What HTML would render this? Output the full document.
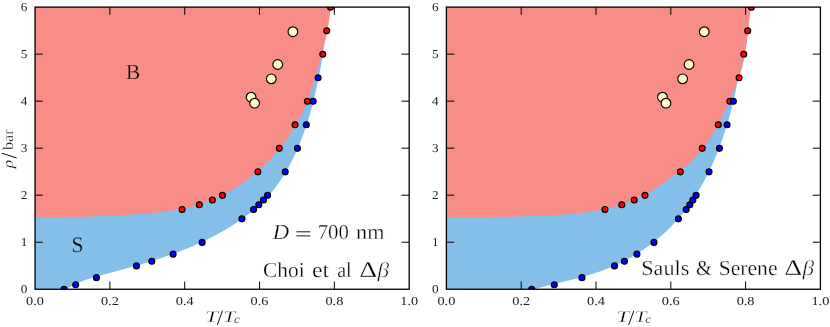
<!DOCTYPE html><html><head><meta charset="utf-8"><style>html,body{margin:0;padding:0;background:#fff}</style></head><body><svg width="830" height="327" viewBox="0 0 830 327" style="will-change:transform;display:block;font-family:'Liberation Serif',serif;text-rendering:geometricPrecision">
<rect width="830" height="327" fill="#fff"/>
<defs><clipPath id="cl"><rect x="35.05" y="7.1" width="374.15" height="282.15"/></clipPath><clipPath id="cr"><rect x="446.4" y="7.1" width="374.0" height="282.15"/></clipPath></defs>
<g clip-path="url(#cl)">
<path d="M35.05,289.25 L64.83,290.42 L65.91,289.68 L66.99,288.96 L68.08,288.26 L69.19,287.58 L70.29,286.92 L71.41,286.29 L72.54,285.67 L73.67,285.07 L74.81,284.50 L75.95,283.94 L77.10,283.39 L78.26,282.87 L79.43,282.36 L80.60,281.86 L81.77,281.38 L82.95,280.92 L84.14,280.47 L85.33,280.03 L86.53,279.60 L87.73,279.18 L88.93,278.78 L90.14,278.38 L91.36,277.99 L92.57,277.62 L93.79,277.25 L95.01,276.89 L96.24,276.53 L97.47,276.18 L98.70,275.84 L99.93,275.50 L101.17,275.17 L102.41,274.84 L103.65,274.51 L104.89,274.19 L106.13,273.86 L107.37,273.54 L108.61,273.22 L109.86,272.89 L111.10,272.57 L112.34,272.25 L113.59,271.92 L114.83,271.59 L116.08,271.26 L117.32,270.93 L118.57,270.60 L119.81,270.27 L121.06,269.94 L122.30,269.60 L123.54,269.26 L124.79,268.93 L126.03,268.59 L127.28,268.24 L128.52,267.90 L129.76,267.55 L131.01,267.21 L132.25,266.86 L133.49,266.51 L134.73,266.15 L135.97,265.80 L137.21,265.44 L138.46,265.08 L139.69,264.72 L140.93,264.36 L142.17,263.99 L143.41,263.62 L144.65,263.25 L145.88,262.88 L147.12,262.50 L148.36,262.12 L149.59,261.74 L150.82,261.36 L152.05,260.97 L153.29,260.58 L154.52,260.19 L155.75,259.80 L156.97,259.40 L158.20,259.00 L159.43,258.60 L160.65,258.19 L161.88,257.78 L163.10,257.37 L164.32,256.96 L165.54,256.54 L166.76,256.12 L167.98,255.69 L169.19,255.26 L170.41,254.83 L171.62,254.40 L172.83,253.96 L174.04,253.51 L175.25,253.07 L176.46,252.62 L177.66,252.17 L178.87,251.71 L180.07,251.25 L181.27,250.78 L182.47,250.32 L183.66,249.84 L184.86,249.37 L186.05,248.89 L187.24,248.40 L188.43,247.91 L189.62,247.42 L190.80,246.92 L191.99,246.42 L193.17,245.92 L194.35,245.41 L195.52,244.89 L196.70,244.37 L197.87,243.85 L199.04,243.32 L200.21,242.79 L201.37,242.25 L202.53,241.71 L203.69,241.17 L204.85,240.61 L206.01,240.06 L207.16,239.50 L208.31,238.93 L209.46,238.36 L210.60,237.78 L211.75,237.20 L212.89,236.62 L214.02,236.02 L215.16,235.43 L216.29,234.83 L217.42,234.22 L218.55,233.61 L219.67,232.99 L220.79,232.36 L221.91,231.74 L223.02,231.10 L224.13,230.46 L225.24,229.81 L226.35,229.16 L227.45,228.51 L228.55,227.84 L229.64,227.17 L230.73,226.50 L231.82,225.82 L232.91,225.13 L233.99,224.44 L235.07,223.74 L236.15,223.03 L237.22,222.32 L238.28,221.60 L239.34,220.88 L240.40,220.15 L241.45,219.41 L242.50,218.66 L243.55,217.91 L244.58,217.15 L245.62,216.39 L246.65,215.62 L247.67,214.84 L248.68,214.05 L249.69,213.26 L250.70,212.46 L251.70,211.65 L252.69,210.84 L253.67,210.02 L254.65,209.19 L255.63,208.35 L256.59,207.50 L257.55,206.65 L258.50,205.79 L259.44,204.92 L260.38,204.05 L261.31,203.16 L262.23,202.27 L263.14,201.37 L264.04,200.46 L264.94,199.54 L265.83,198.62 L266.71,197.68 L267.58,196.74 L268.44,195.79 L269.29,194.83 L270.13,193.86 L270.97,192.89 L271.79,191.90 L272.61,190.91 L273.42,189.91 L274.21,188.90 L275.00,187.89 L275.78,186.86 L276.55,185.83 L277.32,184.80 L278.07,183.75 L278.82,182.70 L279.56,181.64 L280.28,180.58 L281.00,179.51 L281.72,178.43 L282.42,177.35 L283.12,176.26 L283.80,175.17 L284.48,174.07 L285.15,172.97 L285.82,171.86 L286.47,170.74 L287.12,169.63 L287.76,168.50 L288.39,167.38 L289.02,166.25 L289.63,165.11 L290.24,163.98 L290.84,162.83 L291.44,161.69 L292.03,160.54 L292.61,159.39 L293.18,158.23 L293.74,157.08 L294.30,155.92 L294.85,154.75 L295.39,153.59 L295.93,152.42 L296.46,151.25 L296.98,150.08 L297.50,148.90 L298.01,147.72 L298.52,146.54 L299.01,145.36 L299.50,144.17 L299.99,142.98 L300.47,141.79 L300.94,140.60 L301.40,139.40 L301.86,138.21 L302.32,137.01 L302.77,135.80 L303.21,134.60 L303.65,133.39 L304.08,132.19 L304.51,130.97 L304.93,129.76 L305.34,128.55 L305.75,127.33 L306.16,126.11 L306.56,124.89 L306.95,123.67 L307.34,122.45 L307.73,121.22 L308.11,120.00 L308.48,118.77 L308.85,117.54 L309.22,116.31 L309.58,115.07 L309.94,113.84 L310.29,112.60 L310.64,111.36 L310.98,110.13 L311.32,108.88 L311.66,107.64 L311.99,106.40 L312.32,105.16 L312.65,103.91 L312.97,102.66 L313.28,101.42 L313.60,100.17 L313.91,98.92 L314.21,97.67 L314.52,96.42 L314.82,95.16 L315.12,93.91 L315.41,92.66 L315.70,91.40 L315.99,90.15 L316.27,88.89 L316.55,87.63 L316.83,86.37 L317.10,85.12 L317.37,83.86 L317.64,82.60 L317.90,81.34 L318.17,80.08 L318.42,78.82 L318.68,77.55 L318.93,76.29 L319.18,75.03 L319.43,73.77 L319.68,72.51 L319.92,71.24 L320.16,69.98 L320.39,68.72 L320.63,67.46 L320.86,66.19 L321.09,64.93 L321.31,63.67 L321.54,62.40 L321.76,61.14 L321.98,59.88 L322.19,58.62 L322.41,57.35 L322.62,56.09 L322.83,54.83 L323.03,53.57 L323.24,52.31 L323.44,51.05 L330.73,5.07 L330.61,6.43 L330.49,7.79 L330.35,9.15 L330.21,10.51 L330.06,11.88 L329.90,13.24 L329.73,14.61 L329.55,15.98 L329.37,17.35 L329.17,18.73 L328.97,20.10 L328.76,21.47 L328.55,22.85 L328.32,24.22 L328.09,25.60 L327.85,26.98 L327.61,28.35 L327.36,29.73 L327.10,31.11 L326.84,32.49 L326.56,33.87 L326.29,35.25 L326.00,36.63 L325.71,38.01 L325.42,39.38 L325.12,40.76 L324.81,42.14 L324.50,43.52 L324.18,44.90 L323.86,46.28 L323.54,47.66 L323.21,49.03 L322.87,50.41 L35.05,7.10Z" fill="#83bfe9"/>
<path d="M35.05,7.10 L35.05,217.44 L35.15,217.44 L36.52,217.43 L37.88,217.42 L39.25,217.41 L40.62,217.40 L41.99,217.39 L43.36,217.37 L44.74,217.36 L46.11,217.35 L47.49,217.33 L48.87,217.32 L50.25,217.31 L51.63,217.29 L53.02,217.27 L54.41,217.26 L55.79,217.24 L57.18,217.22 L58.57,217.20 L59.96,217.18 L61.36,217.16 L62.75,217.14 L64.15,217.12 L65.54,217.10 L66.94,217.07 L68.34,217.05 L69.74,217.02 L71.14,217.00 L72.55,216.97 L73.95,216.94 L75.35,216.91 L76.76,216.88 L78.16,216.85 L79.57,216.82 L80.98,216.78 L82.39,216.75 L83.80,216.71 L85.21,216.67 L86.62,216.63 L88.03,216.59 L89.44,216.55 L90.85,216.51 L92.26,216.47 L93.67,216.42 L95.09,216.37 L96.50,216.33 L97.91,216.28 L99.33,216.23 L100.74,216.17 L102.16,216.12 L103.57,216.06 L104.99,216.01 L106.40,215.95 L107.82,215.89 L109.23,215.83 L110.64,215.76 L112.06,215.70 L113.47,215.63 L114.89,215.56 L116.30,215.49 L117.72,215.42 L119.13,215.35 L120.54,215.27 L121.95,215.19 L123.37,215.12 L124.78,215.03 L126.19,214.95 L127.60,214.87 L129.01,214.78 L130.42,214.69 L131.83,214.60 L133.24,214.51 L134.64,214.41 L136.05,214.31 L137.46,214.22 L138.86,214.11 L140.27,214.01 L141.67,213.90 L143.07,213.80 L144.47,213.69 L145.87,213.57 L147.27,213.46 L148.67,213.34 L150.07,213.22 L151.46,213.10 L152.86,212.97 L154.25,212.84 L155.64,212.70 L157.03,212.56 L158.42,212.42 L159.81,212.27 L161.19,212.11 L162.58,211.95 L163.96,211.78 L165.34,211.61 L166.72,211.43 L168.10,211.25 L169.48,211.05 L170.85,210.85 L172.22,210.65 L173.59,210.43 L174.96,210.21 L176.33,209.98 L177.69,209.74 L179.06,209.49 L180.42,209.23 L181.78,208.96 L183.13,208.69 L184.49,208.40 L185.84,208.10 L187.19,207.79 L188.54,207.48 L189.88,207.15 L191.22,206.81 L192.57,206.45 L193.90,206.09 L195.24,205.71 L196.57,205.32 L197.90,204.92 L199.23,204.50 L200.56,204.08 L201.88,203.64 L203.20,203.18 L204.51,202.71 L205.83,202.23 L207.14,201.74 L208.44,201.24 L209.75,200.72 L211.05,200.19 L212.34,199.65 L213.63,199.10 L214.92,198.53 L216.20,197.95 L217.48,197.37 L218.76,196.77 L220.03,196.15 L221.29,195.53 L222.55,194.90 L223.81,194.26 L225.06,193.60 L226.30,192.94 L227.54,192.26 L228.77,191.57 L230.00,190.88 L231.22,190.17 L232.44,189.45 L233.65,188.73 L234.85,187.99 L236.05,187.24 L237.24,186.49 L238.42,185.72 L239.60,184.95 L240.77,184.17 L241.93,183.38 L243.09,182.58 L244.24,181.77 L245.38,180.95 L246.52,180.12 L247.65,179.28 L248.77,178.44 L249.88,177.59 L250.99,176.73 L252.09,175.86 L253.18,174.98 L254.27,174.09 L255.34,173.19 L256.41,172.29 L257.48,171.38 L258.53,170.46 L259.58,169.53 L260.63,168.59 L261.66,167.65 L262.69,166.70 L263.71,165.74 L264.72,164.77 L265.72,163.79 L266.72,162.81 L267.71,161.82 L268.69,160.82 L269.67,159.81 L270.64,158.80 L271.60,157.78 L272.55,156.75 L273.49,155.71 L274.43,154.67 L275.36,153.62 L276.28,152.56 L277.19,151.49 L278.10,150.42 L279.00,149.34 L279.89,148.26 L280.77,147.16 L281.64,146.06 L282.50,144.96 L283.36,143.85 L284.20,142.73 L285.04,141.60 L285.87,140.47 L286.69,139.34 L287.51,138.19 L288.31,137.04 L289.10,135.89 L289.89,134.73 L290.66,133.56 L291.43,132.39 L292.19,131.21 L292.94,130.03 L293.68,128.84 L294.41,127.64 L295.13,126.44 L295.84,125.24 L296.54,124.03 L297.23,122.81 L297.92,121.59 L298.59,120.37 L299.25,119.14 L299.90,117.90 L300.55,116.66 L301.18,115.42 L301.80,114.17 L302.41,112.91 L303.01,111.66 L303.61,110.39 L304.19,109.13 L304.76,107.86 L305.32,106.58 L305.87,105.31 L306.41,104.02 L306.94,102.74 L307.45,101.45 L307.96,100.15 L308.46,98.86 L308.94,97.56 L309.42,96.25 L309.89,94.94 L310.35,93.63 L310.80,92.32 L311.24,91.00 L311.68,89.68 L312.11,88.36 L312.54,87.03 L312.96,85.70 L313.37,84.37 L313.78,83.04 L314.19,81.70 L314.60,80.36 L315.00,79.02 L315.40,77.67 L315.80,76.33 L316.19,74.98 L316.59,73.63 L316.98,72.27 L317.37,70.92 L317.76,69.56 L318.14,68.20 L318.53,66.84 L318.91,65.48 L319.29,64.12 L319.66,62.75 L320.03,61.38 L320.40,60.02 L320.76,58.65 L321.12,57.28 L321.48,55.90 L321.83,54.53 L322.18,53.16 L322.53,51.78 L322.87,50.41 L323.21,49.03 L323.54,47.66 L323.86,46.28 L324.18,44.90 L324.50,43.52 L324.81,42.14 L325.12,40.76 L325.42,39.38 L325.71,38.01 L326.00,36.63 L326.29,35.25 L326.56,33.87 L326.84,32.49 L327.10,31.11 L327.36,29.73 L327.61,28.35 L327.85,26.98 L328.09,25.60 L328.32,24.22 L328.55,22.85 L328.76,21.47 L328.97,20.10 L329.17,18.73 L329.37,17.35 L329.55,15.98 L329.73,14.61 L329.90,13.24 L330.06,11.88 L330.21,10.51 L330.35,9.15 L330.49,7.79 L330.61,6.43 L330.73,5.07Z" fill="#f88c86"/>
<circle cx="182.09" cy="209.46" r="2.95" fill="#f00" stroke="#000" stroke-width="1.2"/>
<circle cx="199.30" cy="204.76" r="2.95" fill="#f00" stroke="#000" stroke-width="1.2"/>
<circle cx="212.40" cy="200.05" r="2.95" fill="#f00" stroke="#000" stroke-width="1.2"/>
<circle cx="222.42" cy="195.35" r="2.95" fill="#f00" stroke="#000" stroke-width="1.2"/>
<circle cx="257.86" cy="171.84" r="2.95" fill="#f00" stroke="#000" stroke-width="1.2"/>
<circle cx="279.26" cy="148.33" r="2.95" fill="#f00" stroke="#000" stroke-width="1.2"/>
<circle cx="295.08" cy="124.81" r="2.95" fill="#f00" stroke="#000" stroke-width="1.2"/>
<circle cx="307.36" cy="101.30" r="2.95" fill="#f00" stroke="#000" stroke-width="1.2"/>
<circle cx="322.77" cy="54.27" r="2.95" fill="#f00" stroke="#000" stroke-width="1.2"/>
<circle cx="326.77" cy="30.76" r="2.95" fill="#f00" stroke="#000" stroke-width="1.2"/>
<circle cx="330.48" cy="7.25" r="2.95" fill="#f00" stroke="#000" stroke-width="1.2"/>
<circle cx="64.05" cy="289.40" r="2.95" fill="#00f" stroke="#000" stroke-width="1.2"/>
<circle cx="75.68" cy="284.70" r="2.95" fill="#00f" stroke="#000" stroke-width="1.2"/>
<circle cx="96.41" cy="277.64" r="2.95" fill="#00f" stroke="#000" stroke-width="1.2"/>
<circle cx="136.44" cy="265.89" r="2.95" fill="#00f" stroke="#000" stroke-width="1.2"/>
<circle cx="151.78" cy="261.19" r="2.95" fill="#00f" stroke="#000" stroke-width="1.2"/>
<circle cx="173.11" cy="254.13" r="2.95" fill="#00f" stroke="#000" stroke-width="1.2"/>
<circle cx="202.11" cy="242.38" r="2.95" fill="#00f" stroke="#000" stroke-width="1.2"/>
<circle cx="241.95" cy="218.86" r="2.95" fill="#00f" stroke="#000" stroke-width="1.2"/>
<circle cx="253.55" cy="209.46" r="2.95" fill="#00f" stroke="#000" stroke-width="1.2"/>
<circle cx="258.79" cy="204.76" r="2.95" fill="#00f" stroke="#000" stroke-width="1.2"/>
<circle cx="263.47" cy="200.05" r="2.95" fill="#00f" stroke="#000" stroke-width="1.2"/>
<circle cx="267.62" cy="195.35" r="2.95" fill="#00f" stroke="#000" stroke-width="1.2"/>
<circle cx="285.21" cy="171.84" r="2.95" fill="#00f" stroke="#000" stroke-width="1.2"/>
<circle cx="297.44" cy="148.33" r="2.95" fill="#00f" stroke="#000" stroke-width="1.2"/>
<circle cx="306.31" cy="124.81" r="2.95" fill="#00f" stroke="#000" stroke-width="1.2"/>
<circle cx="313.16" cy="101.30" r="2.95" fill="#00f" stroke="#000" stroke-width="1.2"/>
<circle cx="318.09" cy="77.79" r="2.95" fill="#00f" stroke="#000" stroke-width="1.2"/>
<circle cx="251.10" cy="97.20" r="4.85" fill="#fffacd" stroke="#000" stroke-width="1.15"/>
<circle cx="254.60" cy="103.20" r="4.85" fill="#fffacd" stroke="#000" stroke-width="1.15"/>
<circle cx="271.30" cy="78.80" r="4.85" fill="#fffacd" stroke="#000" stroke-width="1.15"/>
<circle cx="277.70" cy="64.50" r="4.85" fill="#fffacd" stroke="#000" stroke-width="1.15"/>
<circle cx="292.90" cy="31.70" r="4.85" fill="#fffacd" stroke="#000" stroke-width="1.15"/>
</g>
<path d="M109.88,289.25v-7.7M109.88,7.1v7.7M184.71,289.25v-7.7M184.71,7.1v7.7M259.54,289.25v-7.7M259.54,7.1v7.7M334.37,289.25v-7.7M334.37,7.1v7.7M35.05,242.22h7.7M409.2,242.22h-7.7M35.05,195.20h7.7M409.2,195.20h-7.7M35.05,148.18h7.7M409.2,148.18h-7.7M35.05,101.15h7.7M409.2,101.15h-7.7M35.05,54.12h7.7M409.2,54.12h-7.7" stroke="#000" stroke-width="1.0" fill="none"/>
<rect x="35.05" y="7.1" width="374.15" height="282.15" fill="none" stroke="#000" stroke-width="1.3"/>
<text x="26.10" y="305.1" font-size="12.1" fill="#222" textLength="17.9" lengthAdjust="spacingAndGlyphs">0.0</text>
<text x="100.93" y="305.1" font-size="12.1" fill="#222" textLength="17.9" lengthAdjust="spacingAndGlyphs">0.2</text>
<text x="175.76" y="305.1" font-size="12.1" fill="#222" textLength="17.9" lengthAdjust="spacingAndGlyphs">0.4</text>
<text x="250.59" y="305.1" font-size="12.1" fill="#222" textLength="17.9" lengthAdjust="spacingAndGlyphs">0.6</text>
<text x="325.42" y="305.1" font-size="12.1" fill="#222" textLength="17.9" lengthAdjust="spacingAndGlyphs">0.8</text>
<text x="400.25" y="305.1" font-size="12.1" fill="#222" textLength="17.9" lengthAdjust="spacingAndGlyphs">1.0</text>
<text x="20.75" y="292.85" font-size="12.1" fill="#222" textLength="6.6" lengthAdjust="spacingAndGlyphs">0</text>
<text x="20.75" y="245.82" font-size="12.1" fill="#222" textLength="6.6" lengthAdjust="spacingAndGlyphs">1</text>
<text x="20.75" y="198.80" font-size="12.1" fill="#222" textLength="6.6" lengthAdjust="spacingAndGlyphs">2</text>
<text x="20.75" y="151.78" font-size="12.1" fill="#222" textLength="6.6" lengthAdjust="spacingAndGlyphs">3</text>
<text x="20.75" y="104.75" font-size="12.1" fill="#222" textLength="6.6" lengthAdjust="spacingAndGlyphs">4</text>
<text x="20.75" y="57.73" font-size="12.1" fill="#222" textLength="6.6" lengthAdjust="spacingAndGlyphs">5</text>
<text x="20.75" y="10.70" font-size="12.1" fill="#222" textLength="6.6" lengthAdjust="spacingAndGlyphs">6</text>
<g clip-path="url(#cr)">
<path d="M446.40,289.25 L531.19,290.25 L532.22,289.92 L533.25,289.58 L534.28,289.26 L535.31,288.95 L536.34,288.64 L537.38,288.34 L538.41,288.04 L539.44,287.75 L540.48,287.46 L541.51,287.19 L542.55,286.91 L543.58,286.64 L544.62,286.37 L545.66,286.11 L546.69,285.85 L547.73,285.59 L548.77,285.34 L549.81,285.09 L550.85,284.83 L551.88,284.58 L552.92,284.33 L553.96,284.09 L555.00,283.84 L556.04,283.59 L557.08,283.34 L558.12,283.09 L559.16,282.84 L560.19,282.59 L561.23,282.34 L562.27,282.08 L563.31,281.83 L564.35,281.58 L565.39,281.32 L566.42,281.07 L567.46,280.81 L568.50,280.55 L569.53,280.29 L570.57,280.03 L571.60,279.76 L572.64,279.50 L573.67,279.23 L574.70,278.96 L575.74,278.69 L576.77,278.42 L577.80,278.14 L578.83,277.86 L579.86,277.58 L580.89,277.30 L581.91,277.01 L582.94,276.73 L583.97,276.43 L584.99,276.14 L586.01,275.84 L587.04,275.54 L588.06,275.24 L589.08,274.93 L590.09,274.62 L591.11,274.30 L592.13,273.99 L593.14,273.66 L594.16,273.34 L595.17,273.01 L596.18,272.67 L597.19,272.33 L598.19,271.99 L599.20,271.64 L600.20,271.29 L601.21,270.94 L602.21,270.58 L603.21,270.21 L604.20,269.84 L605.20,269.46 L606.19,269.08 L607.18,268.70 L608.17,268.30 L609.16,267.91 L610.15,267.50 L611.13,267.10 L612.11,266.68 L613.09,266.26 L614.07,265.84 L615.05,265.41 L616.02,264.97 L616.99,264.52 L617.96,264.08 L618.92,263.62 L619.89,263.16 L620.85,262.69 L621.81,262.22 L622.76,261.74 L623.72,261.25 L624.67,260.76 L625.62,260.27 L626.56,259.76 L627.51,259.25 L628.45,258.74 L629.38,258.22 L630.32,257.70 L631.25,257.17 L632.18,256.63 L633.11,256.09 L634.03,255.54 L634.95,254.99 L635.87,254.43 L636.78,253.87 L637.69,253.30 L638.60,252.72 L639.50,252.14 L640.40,251.56 L641.30,250.97 L642.20,250.37 L643.09,249.77 L643.98,249.17 L644.86,248.56 L645.74,247.94 L646.62,247.32 L647.49,246.70 L648.36,246.06 L649.23,245.43 L650.09,244.79 L650.95,244.14 L651.81,243.49 L652.66,242.84 L653.51,242.18 L654.35,241.51 L655.19,240.84 L656.03,240.17 L656.86,239.49 L657.69,238.80 L658.51,238.11 L659.33,237.42 L660.15,236.72 L660.96,236.02 L661.77,235.31 L662.57,234.60 L663.37,233.89 L664.16,233.16 L664.95,232.44 L665.74,231.71 L666.52,230.98 L667.30,230.24 L668.07,229.50 L668.84,228.75 L669.60,228.00 L670.36,227.25 L671.12,226.49 L671.86,225.72 L672.61,224.96 L673.35,224.18 L674.08,223.41 L674.81,222.63 L675.54,221.85 L676.26,221.06 L676.97,220.27 L677.69,219.47 L678.39,218.67 L679.09,217.87 L679.79,217.06 L680.48,216.25 L681.16,215.44 L681.84,214.62 L682.51,213.80 L683.18,212.98 L683.84,212.15 L684.50,211.31 L685.16,210.48 L685.80,209.64 L686.44,208.80 L687.08,207.95 L687.71,207.10 L688.34,206.25 L688.96,205.39 L689.57,204.53 L690.18,203.67 L690.79,202.80 L691.39,201.93 L691.98,201.06 L692.57,200.18 L693.16,199.30 L693.74,198.42 L694.31,197.53 L694.89,196.64 L695.45,195.75 L696.02,194.86 L696.58,193.96 L697.13,193.06 L697.68,192.15 L698.23,191.25 L698.78,190.34 L699.32,189.43 L699.85,188.51 L700.38,187.59 L700.91,186.67 L701.44,185.75 L701.96,184.82 L702.48,183.90 L702.99,182.97 L703.51,182.03 L704.01,181.10 L704.52,180.16 L705.02,179.22 L705.51,178.27 L706.01,177.33 L706.50,176.38 L706.98,175.43 L707.47,174.48 L707.95,173.52 L708.42,172.56 L708.89,171.60 L709.36,170.64 L709.83,169.68 L710.29,168.71 L710.75,167.75 L711.20,166.78 L711.65,165.80 L712.10,164.83 L712.54,163.85 L712.98,162.88 L713.42,161.90 L713.85,160.91 L714.28,159.93 L714.70,158.95 L715.12,157.96 L715.54,156.97 L715.96,155.98 L716.37,154.99 L716.78,153.99 L717.18,153.00 L717.58,152.00 L717.98,151.00 L718.37,150.00 L718.76,149.00 L719.15,148.00 L719.53,146.99 L719.91,145.99 L720.29,144.98 L720.66,143.97 L721.03,142.96 L721.39,141.95 L721.75,140.94 L722.11,139.93 L722.47,138.91 L722.82,137.90 L723.17,136.88 L723.51,135.86 L723.85,134.85 L724.19,133.83 L724.53,132.80 L724.86,131.78 L725.19,130.76 L725.52,129.74 L725.84,128.71 L726.16,127.69 L726.48,126.66 L726.79,125.64 L727.10,124.61 L727.41,123.58 L727.72,122.55 L728.02,121.52 L728.32,120.49 L728.62,119.46 L728.91,118.43 L729.20,117.40 L729.49,116.37 L729.78,115.34 L730.06,114.30 L730.34,113.27 L730.62,112.24 L730.90,111.20 L731.17,110.17 L731.44,109.13 L731.71,108.10 L731.98,107.07 L732.24,106.03 L732.50,105.00 L732.75,103.96 L733.01,102.93 L733.26,101.89 L733.50,100.86 L733.75,99.82 L733.99,98.79 L734.23,97.75 L734.46,96.72 L734.69,95.68 L734.92,94.65 L735.14,93.61 L735.36,92.58 L735.58,91.55 L735.79,90.51 L736.00,89.48 L736.20,88.45 L736.40,87.42 L736.60,86.38 L736.79,85.35 L736.98,84.32 L737.16,83.29 L737.34,82.26 L737.52,81.23 L737.69,80.21 L750.61,4.97 L750.46,6.42 L750.31,7.87 L750.16,9.31 L750.02,10.76 L749.88,12.21 L749.74,13.65 L749.60,15.09 L749.46,16.53 L749.32,17.98 L749.18,19.41 L749.05,20.85 L748.91,22.29 L748.77,23.73 L748.63,25.16 L748.49,26.59 L748.34,28.02 L748.19,29.45 L748.04,30.88 L747.89,32.31 L747.73,33.74 L747.57,35.16 L747.41,36.58 L747.24,38.01 L747.07,39.43 L746.89,40.84 L746.70,42.26 L746.51,43.67 L746.31,45.09 L746.11,46.50 L745.90,47.91 L745.68,49.32 L745.45,50.72 L745.22,52.13 L744.97,53.53 L744.72,54.93 L744.46,56.33 L744.18,57.72 L743.90,59.12 L743.60,60.51 L743.29,61.90 L742.97,63.29 L742.63,64.68 L742.28,66.06 L741.90,67.45 L741.52,68.83 L741.11,70.20 L740.69,71.58 L740.25,72.95 L739.80,74.33 L739.33,75.70 L738.86,77.06 L738.37,78.43 L737.87,79.79 L446.40,7.10Z" fill="#83bfe9"/>
<path d="M446.40,7.10 L446.40,217.39 L446.48,217.39 L447.89,217.38 L449.30,217.37 L450.71,217.36 L452.13,217.35 L453.54,217.34 L454.96,217.33 L456.38,217.33 L457.79,217.32 L459.21,217.31 L460.64,217.30 L462.06,217.29 L463.48,217.28 L464.91,217.27 L466.34,217.26 L467.76,217.25 L469.19,217.24 L470.62,217.23 L472.05,217.22 L473.48,217.21 L474.92,217.20 L476.35,217.19 L477.79,217.18 L479.22,217.16 L480.66,217.15 L482.10,217.14 L483.53,217.12 L484.97,217.11 L486.41,217.09 L487.85,217.07 L489.30,217.06 L490.74,217.04 L492.18,217.02 L493.62,217.00 L495.07,216.98 L496.51,216.96 L497.96,216.93 L499.40,216.91 L500.85,216.88 L502.29,216.86 L503.74,216.83 L505.19,216.80 L506.63,216.77 L508.08,216.74 L509.53,216.71 L510.98,216.68 L512.43,216.65 L513.87,216.61 L515.32,216.58 L516.77,216.54 L518.22,216.50 L519.67,216.46 L521.12,216.42 L522.56,216.37 L524.01,216.33 L525.46,216.28 L526.91,216.23 L528.36,216.18 L529.81,216.13 L531.25,216.08 L532.70,216.03 L534.15,215.97 L535.60,215.91 L537.04,215.85 L538.49,215.79 L539.93,215.73 L541.38,215.66 L542.82,215.60 L544.27,215.53 L545.71,215.46 L547.16,215.38 L548.60,215.31 L550.04,215.23 L551.48,215.15 L552.92,215.07 L554.36,214.99 L555.80,214.90 L557.24,214.81 L558.68,214.72 L560.11,214.63 L561.55,214.53 L562.98,214.44 L564.42,214.34 L565.85,214.23 L567.28,214.13 L568.71,214.01 L570.14,213.90 L571.57,213.78 L573.00,213.66 L574.43,213.53 L575.85,213.39 L577.28,213.26 L578.70,213.11 L580.12,212.96 L581.54,212.80 L582.96,212.64 L584.38,212.47 L585.79,212.30 L587.21,212.11 L588.62,211.92 L590.03,211.72 L591.44,211.51 L592.85,211.30 L594.26,211.08 L595.66,210.84 L597.07,210.60 L598.47,210.35 L599.87,210.09 L601.27,209.82 L602.66,209.54 L604.06,209.25 L605.45,208.95 L606.84,208.64 L608.23,208.31 L609.62,207.98 L611.01,207.63 L612.39,207.27 L613.77,206.90 L615.15,206.52 L616.53,206.12 L617.90,205.71 L619.27,205.29 L620.64,204.85 L622.01,204.40 L623.38,203.94 L624.74,203.46 L626.10,202.97 L627.46,202.46 L628.81,201.94 L630.16,201.41 L631.51,200.86 L632.85,200.30 L634.18,199.73 L635.51,199.14 L636.84,198.55 L638.15,197.94 L639.47,197.31 L640.77,196.68 L642.07,196.03 L643.36,195.36 L644.64,194.69 L645.92,194.01 L647.19,193.31 L648.44,192.60 L649.69,191.88 L650.93,191.14 L652.16,190.40 L653.38,189.64 L654.60,188.87 L655.79,188.10 L656.98,187.31 L658.17,186.51 L659.34,185.70 L660.51,184.89 L661.68,184.07 L662.85,183.26 L664.02,182.44 L665.19,181.62 L666.37,180.81 L667.55,180.00 L668.73,179.18 L669.91,178.37 L671.09,177.55 L672.27,176.73 L673.45,175.91 L674.62,175.08 L675.79,174.24 L676.95,173.40 L678.10,172.55 L679.25,171.69 L680.38,170.83 L681.51,169.95 L682.63,169.06 L683.73,168.17 L684.83,167.26 L685.92,166.34 L687.00,165.41 L688.07,164.46 L689.14,163.51 L690.19,162.54 L691.24,161.55 L692.28,160.56 L693.31,159.55 L694.34,158.52 L695.35,157.49 L696.36,156.44 L697.35,155.38 L698.33,154.31 L699.30,153.22 L700.25,152.12 L701.19,151.02 L702.11,149.90 L703.01,148.77 L703.89,147.63 L704.75,146.48 L705.59,145.33 L706.42,144.16 L707.23,142.98 L708.03,141.80 L708.81,140.61 L709.58,139.41 L710.34,138.20 L711.10,136.99 L711.84,135.77 L712.58,134.54 L713.32,133.31 L714.04,132.07 L714.76,130.83 L715.48,129.58 L716.18,128.33 L716.88,127.07 L717.57,125.81 L718.24,124.55 L718.91,123.28 L719.57,122.01 L720.22,120.73 L720.87,119.46 L721.50,118.18 L722.13,116.89 L722.75,115.61 L723.36,114.32 L723.96,113.02 L724.56,111.73 L725.16,110.43 L725.74,109.13 L726.33,107.82 L726.91,106.51 L727.48,105.20 L728.05,103.89 L728.62,102.57 L729.18,101.25 L729.74,99.93 L730.30,98.61 L730.85,97.28 L731.41,95.95 L731.96,94.62 L732.51,93.28 L733.06,91.94 L733.61,90.60 L734.16,89.26 L734.71,87.92 L735.25,86.57 L735.79,85.22 L736.32,83.86 L736.84,82.51 L737.36,81.15 L737.87,79.79 L738.37,78.43 L738.86,77.06 L739.33,75.70 L739.80,74.33 L740.25,72.95 L740.69,71.58 L741.11,70.20 L741.52,68.83 L741.90,67.45 L742.28,66.06 L742.63,64.68 L742.97,63.29 L743.29,61.90 L743.60,60.51 L743.90,59.12 L744.18,57.72 L744.46,56.33 L744.72,54.93 L744.97,53.53 L745.22,52.13 L745.45,50.72 L745.68,49.32 L745.90,47.91 L746.11,46.50 L746.31,45.09 L746.51,43.67 L746.70,42.26 L746.89,40.84 L747.07,39.43 L747.24,38.01 L747.41,36.58 L747.57,35.16 L747.73,33.74 L747.89,32.31 L748.04,30.88 L748.19,29.45 L748.34,28.02 L748.49,26.59 L748.63,25.16 L748.77,23.73 L748.91,22.29 L749.05,20.85 L749.18,19.41 L749.32,17.98 L749.46,16.53 L749.60,15.09 L749.74,13.65 L749.88,12.21 L750.02,10.76 L750.16,9.31 L750.31,7.87 L750.46,6.42 L750.61,4.97Z" fill="#f88c86"/>
<circle cx="604.98" cy="209.46" r="2.95" fill="#f00" stroke="#000" stroke-width="1.2"/>
<circle cx="621.81" cy="204.76" r="2.95" fill="#f00" stroke="#000" stroke-width="1.2"/>
<circle cx="634.15" cy="200.05" r="2.95" fill="#f00" stroke="#000" stroke-width="1.2"/>
<circle cx="644.99" cy="195.35" r="2.95" fill="#f00" stroke="#000" stroke-width="1.2"/>
<circle cx="680.30" cy="171.84" r="2.95" fill="#f00" stroke="#000" stroke-width="1.2"/>
<circle cx="702.22" cy="148.33" r="2.95" fill="#f00" stroke="#000" stroke-width="1.2"/>
<circle cx="718.30" cy="124.81" r="2.95" fill="#f00" stroke="#000" stroke-width="1.2"/>
<circle cx="729.89" cy="101.30" r="2.95" fill="#f00" stroke="#000" stroke-width="1.2"/>
<circle cx="739.09" cy="77.79" r="2.95" fill="#f00" stroke="#000" stroke-width="1.2"/>
<circle cx="743.80" cy="54.27" r="2.95" fill="#f00" stroke="#000" stroke-width="1.2"/>
<circle cx="747.69" cy="30.76" r="2.95" fill="#f00" stroke="#000" stroke-width="1.2"/>
<circle cx="751.36" cy="7.25" r="2.95" fill="#f00" stroke="#000" stroke-width="1.2"/>
<circle cx="531.67" cy="289.40" r="2.95" fill="#00f" stroke="#000" stroke-width="1.2"/>
<circle cx="554.30" cy="284.70" r="2.95" fill="#00f" stroke="#000" stroke-width="1.2"/>
<circle cx="581.97" cy="277.64" r="2.95" fill="#00f" stroke="#000" stroke-width="1.2"/>
<circle cx="614.51" cy="265.89" r="2.95" fill="#00f" stroke="#000" stroke-width="1.2"/>
<circle cx="624.42" cy="261.19" r="2.95" fill="#00f" stroke="#000" stroke-width="1.2"/>
<circle cx="636.92" cy="254.13" r="2.95" fill="#00f" stroke="#000" stroke-width="1.2"/>
<circle cx="653.97" cy="242.38" r="2.95" fill="#00f" stroke="#000" stroke-width="1.2"/>
<circle cx="678.39" cy="218.86" r="2.95" fill="#00f" stroke="#000" stroke-width="1.2"/>
<circle cx="686.13" cy="209.46" r="2.95" fill="#00f" stroke="#000" stroke-width="1.2"/>
<circle cx="689.87" cy="204.76" r="2.95" fill="#00f" stroke="#000" stroke-width="1.2"/>
<circle cx="692.87" cy="200.05" r="2.95" fill="#00f" stroke="#000" stroke-width="1.2"/>
<circle cx="696.08" cy="195.35" r="2.95" fill="#00f" stroke="#000" stroke-width="1.2"/>
<circle cx="709.06" cy="171.84" r="2.95" fill="#00f" stroke="#000" stroke-width="1.2"/>
<circle cx="719.42" cy="148.33" r="2.95" fill="#00f" stroke="#000" stroke-width="1.2"/>
<circle cx="727.09" cy="124.81" r="2.95" fill="#00f" stroke="#000" stroke-width="1.2"/>
<circle cx="733.37" cy="101.30" r="2.95" fill="#00f" stroke="#000" stroke-width="1.2"/>
<circle cx="662.45" cy="97.20" r="4.85" fill="#fffacd" stroke="#000" stroke-width="1.15"/>
<circle cx="665.95" cy="103.20" r="4.85" fill="#fffacd" stroke="#000" stroke-width="1.15"/>
<circle cx="682.65" cy="78.80" r="4.85" fill="#fffacd" stroke="#000" stroke-width="1.15"/>
<circle cx="689.05" cy="64.50" r="4.85" fill="#fffacd" stroke="#000" stroke-width="1.15"/>
<circle cx="704.25" cy="31.70" r="4.85" fill="#fffacd" stroke="#000" stroke-width="1.15"/>
</g>
<path d="M521.20,289.25v-7.7M521.20,7.1v7.7M596.00,289.25v-7.7M596.00,7.1v7.7M670.80,289.25v-7.7M670.80,7.1v7.7M745.60,289.25v-7.7M745.60,7.1v7.7M446.4,242.22h7.7M820.4,242.22h-7.7M446.4,195.20h7.7M820.4,195.20h-7.7M446.4,148.18h7.7M820.4,148.18h-7.7M446.4,101.15h7.7M820.4,101.15h-7.7M446.4,54.12h7.7M820.4,54.12h-7.7" stroke="#000" stroke-width="1.0" fill="none"/>
<rect x="446.4" y="7.1" width="374.0" height="282.15" fill="none" stroke="#000" stroke-width="1.3"/>
<text x="437.45" y="305.1" font-size="12.1" fill="#222" textLength="17.9" lengthAdjust="spacingAndGlyphs">0.0</text>
<text x="512.25" y="305.1" font-size="12.1" fill="#222" textLength="17.9" lengthAdjust="spacingAndGlyphs">0.2</text>
<text x="587.05" y="305.1" font-size="12.1" fill="#222" textLength="17.9" lengthAdjust="spacingAndGlyphs">0.4</text>
<text x="661.85" y="305.1" font-size="12.1" fill="#222" textLength="17.9" lengthAdjust="spacingAndGlyphs">0.6</text>
<text x="736.65" y="305.1" font-size="12.1" fill="#222" textLength="17.9" lengthAdjust="spacingAndGlyphs">0.8</text>
<text x="811.45" y="305.1" font-size="12.1" fill="#222" textLength="17.9" lengthAdjust="spacingAndGlyphs">1.0</text>
<text x="432.10" y="292.85" font-size="12.1" fill="#222" textLength="6.6" lengthAdjust="spacingAndGlyphs">0</text>
<text x="432.10" y="245.82" font-size="12.1" fill="#222" textLength="6.6" lengthAdjust="spacingAndGlyphs">1</text>
<text x="432.10" y="198.80" font-size="12.1" fill="#222" textLength="6.6" lengthAdjust="spacingAndGlyphs">2</text>
<text x="432.10" y="151.78" font-size="12.1" fill="#222" textLength="6.6" lengthAdjust="spacingAndGlyphs">3</text>
<text x="432.10" y="104.75" font-size="12.1" fill="#222" textLength="6.6" lengthAdjust="spacingAndGlyphs">4</text>
<text x="432.10" y="57.73" font-size="12.1" fill="#222" textLength="6.6" lengthAdjust="spacingAndGlyphs">5</text>
<text x="432.10" y="10.70" font-size="12.1" fill="#222" textLength="6.6" lengthAdjust="spacingAndGlyphs">6</text>
<text x="125.7" y="79.0" font-size="21.3" textLength="14.6" lengthAdjust="spacingAndGlyphs" stroke="#f88c86" stroke-width="0.3">B</text>
<text x="71.4" y="252.3" font-size="22.2" textLength="12.0" lengthAdjust="spacingAndGlyphs" stroke="#83bfe9" stroke-width="0.3">S</text>
<text x="272.8" y="239.45" font-size="21.3" textLength="16.4" lengthAdjust="spacingAndGlyphs" font-style="italic" stroke="#fff" stroke-width="0.3">D</text>
<path d="M296.4,231.8h13.9M296.4,235.9h13.9" stroke="#000" stroke-width="0.9" fill="none"/>
<text x="317.7" y="239.45" font-size="21.3" textLength="31.1" lengthAdjust="spacingAndGlyphs" stroke="#fff" stroke-width="0.3">700</text>
<text x="356.1" y="239.45" font-size="21.3" textLength="28.4" lengthAdjust="spacingAndGlyphs" stroke="#fff" stroke-width="0.3">nm</text>
<text x="263.1" y="276.7" font-size="21.3" textLength="41.6" lengthAdjust="spacingAndGlyphs" stroke="#fff" stroke-width="0.3">Choi</text>
<text x="312.0" y="276.7" font-size="21.3" textLength="17.1" lengthAdjust="spacingAndGlyphs" stroke="#fff" stroke-width="0.3">et</text>
<text x="337.2" y="276.7" font-size="21.3" textLength="14.4" lengthAdjust="spacingAndGlyphs" stroke="#fff" stroke-width="0.3">al</text>
<text x="359.3" y="276.7" font-size="22.3" textLength="18.0" lengthAdjust="spacingAndGlyphs" stroke="#fff" stroke-width="0.3">Δ</text>
<text x="377.4" y="276.7" font-size="21.3" textLength="11.6" lengthAdjust="spacingAndGlyphs" font-style="italic" stroke="#fff" stroke-width="0.5">β</text>
<text x="641.3" y="275.4" font-size="21.3" textLength="48.0" lengthAdjust="spacingAndGlyphs" stroke="#fff" stroke-width="0.3">Sauls</text>
<text x="695.9" y="275.4" font-size="21.3" textLength="15.8" lengthAdjust="spacingAndGlyphs" stroke="#fff" stroke-width="0.3">&amp;</text>
<text x="718.7" y="275.4" font-size="21.3" textLength="58.8" lengthAdjust="spacingAndGlyphs" stroke="#fff" stroke-width="0.3">Serene</text>
<text x="784.3" y="275.4" font-size="22.3" textLength="18.0" lengthAdjust="spacingAndGlyphs" stroke="#fff" stroke-width="0.3">Δ</text>
<text x="802.6" y="275.4" font-size="21.3" textLength="11.6" lengthAdjust="spacingAndGlyphs" font-style="italic" stroke="#fff" stroke-width="0.5">β</text>
<text x="205.0" y="321.6" font-size="16.4" textLength="13.0" lengthAdjust="spacingAndGlyphs" font-style="italic" stroke="#fff" stroke-width="0.3">T</text>
<path d="M217.40,324.8L222.50,310.6" stroke="#000" stroke-width="0.95" fill="none"/>
<text x="223.2" y="321.6" font-size="16.4" textLength="12.0" lengthAdjust="spacingAndGlyphs" font-style="italic" stroke="#fff" stroke-width="0.3">T</text>
<text x="233.9" y="323.2" font-size="11.5" textLength="5.8" lengthAdjust="spacingAndGlyphs" font-style="italic" stroke="#fff" stroke-width="0.15">c</text>
<text x="616.3499999999999" y="321.6" font-size="16.4" textLength="13.0" lengthAdjust="spacingAndGlyphs" font-style="italic" stroke="#fff" stroke-width="0.3">T</text>
<path d="M628.75,324.8L633.85,310.6" stroke="#000" stroke-width="0.95" fill="none"/>
<text x="634.55" y="321.6" font-size="16.4" textLength="12.0" lengthAdjust="spacingAndGlyphs" font-style="italic" stroke="#fff" stroke-width="0.3">T</text>
<text x="645.25" y="323.2" font-size="11.5" textLength="5.8" lengthAdjust="spacingAndGlyphs" font-style="italic" stroke="#fff" stroke-width="0.15">c</text>
<g transform="translate(12.8,168.6) rotate(-90)">
<text x="0" y="0" font-size="15" textLength="8.7" lengthAdjust="spacingAndGlyphs" font-style="italic" stroke="#fff" stroke-width="0.3">p</text>
<text x="18.6" y="0" font-size="15" textLength="20.6" lengthAdjust="spacingAndGlyphs" stroke="#fff" stroke-width="0.3">bar</text>
</g>
<path d="M16.7,158.0L1.9,153.2" stroke="#000" stroke-width="0.95" fill="none"/>
</svg></body></html>
